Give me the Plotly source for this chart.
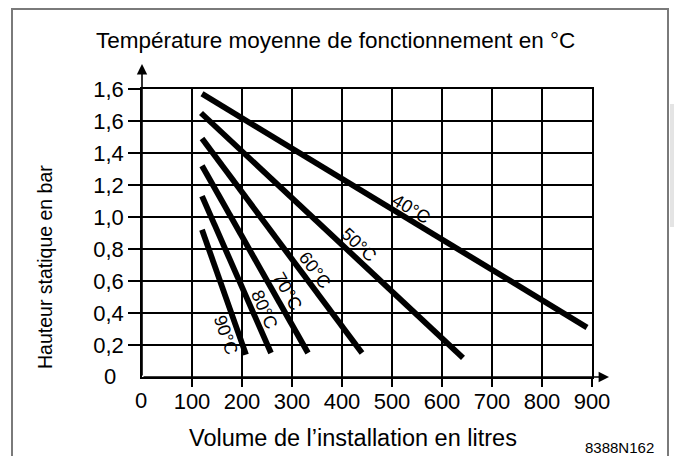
import math
import plotly.graph_objects as go

# Mean operating temperature curves: static head (bar) vs installation volume (litres)
temperatures = ["40°C", "50°C", "60°C", "70°C", "80°C", "90°C"]
volume_start = [120, 118, 120, 120, 120, 120]
volume_end = [890, 642, 440, 332, 258, 208]
head_start = [1.77, 1.65, 1.49, 1.32, 1.13, 0.92]
head_end = [0.31, 0.12, 0.15, 0.15, 0.15, 0.14]

x_ticks = [100, 200, 300, 400, 500, 600, 700, 800, 900]
x_tick_labels = [str(v) for v in x_ticks]
y_ticks = [0.2, 0.4, 0.6, 0.8, 1.0, 1.2, 1.4, 1.6, 1.8]
y_tick_labels = ["0,2", "0,4", "0,6", "0,8", "1,0", "1,2", "1,4", "1,6", "1,6"]
origin_label = "0"

# Curve label placement: fraction along the curve and perpendicular offset (px)
label_frac = [0.53, 0.573, 0.645, 0.703, 0.75, 0.812]
label_offset = [10, 12, 12, 12, 11, -13]

W, H = 674, 456
M_L, M_R, M_T, M_B = 142, 82, 89, 79
PW, PH = W - M_L - M_R, H - M_T - M_B
X_RANGE = [0, 900]
Y_RANGE = [0, 1.8]
KX = PW / (X_RANGE[1] - X_RANGE[0])
KY = PH / (Y_RANGE[1] - Y_RANGE[0])


def px(xp):
    return (xp - M_L) / PW


def py(yp):
    return (H - M_B - yp) / PH


FONT = "Liberation Sans, Arial, Helvetica, sans-serif"
TICK_SIZE = 22

fig = go.Figure()
for i, t in enumerate(temperatures):
    fig.add_trace(go.Scatter(
        x=[volume_start[i], volume_end[i]],
        y=[head_start[i], head_end[i]],
        mode="lines",
        line=dict(color="black", width=5.8),
        showlegend=False,
        hoverinfo="skip",
        name=t,
    ))

annotations = []
for i, t in enumerate(temperatures):
    dx = (volume_end[i] - volume_start[i]) * KX
    dy = (head_start[i] - head_end[i]) * KY  # screen y grows downward
    L = math.hypot(dx, dy)
    ux, uy = dx / L, dy / L
    f = label_frac[i]
    ax_ = volume_start[i] + f * (volume_end[i] - volume_start[i])
    ay_ = head_start[i] + f * (head_end[i] - head_start[i])
    d = label_offset[i]
    annotations.append(dict(
        x=ax_, y=ay_, xref="x", yref="y", text=t, showarrow=False,
        xanchor="center", yanchor="middle",
        textangle=math.degrees(math.atan2(dy, dx)),
        xshift=d * uy, yshift=d * ux,
        font=dict(family=FONT, size=18, color="black"),
    ))

# Origin labels (no tick marks at the origin)
annotations += [
    dict(x=0, y=0, xref="x", yref="y", text=origin_label, showarrow=False,
         xanchor="right", yanchor="middle", xshift=-24, yshift=1,
         font=dict(family=FONT, size=TICK_SIZE, color="black")),
    dict(x=0, y=0, xref="x", yref="y", text=origin_label, showarrow=False,
         xanchor="center", yanchor="middle", xshift=-1, yshift=-23,
         font=dict(family=FONT, size=TICK_SIZE, color="black")),
]

# Axis arrows
annotations.append(dict(
    x=0, y=py(64), xref="x", yref="paper", ax=0, ay=H - M_B - 64,
    axref="pixel", ayref="pixel", text="", showarrow=True,
    arrowhead=2, arrowsize=1.3, arrowwidth=1.6, arrowcolor="black",
))
annotations.append(dict(
    x=px(609), y=0, xref="paper", yref="y", ax=-(609 - M_L), ay=0,
    text="", showarrow=True,
    arrowhead=2, arrowsize=1.3, arrowwidth=1.6, arrowcolor="black",
))

# Titles and reference code
annotations += [
    dict(x=px(335), y=py(41), xref="paper", yref="paper", showarrow=False,
         xanchor="center", yanchor="middle",
         text="Température moyenne de fonctionnement en °C",
         font=dict(family=FONT, size=22.5, color="black")),
    dict(x=px(45), y=py(245), xref="paper", yref="paper", showarrow=False,
         xanchor="center", yanchor="middle", yshift=-22,
         text="Hauteur statique en bar", textangle=-90,
         font=dict(family=FONT, size=19.5, color="black")),
    dict(x=px(353), y=py(438), xref="paper", yref="paper", showarrow=False,
         xanchor="center", yanchor="middle",
         text="Volume de l’installation en litres",
         font=dict(family=FONT, size=23.5, color="black")),
    dict(x=px(619), y=py(447), xref="paper", yref="paper", showarrow=False,
         xanchor="center", yanchor="middle",
         text="8388N162", font=dict(family=FONT, size=15, color="black")),
]

shapes = [
    # outer frame
    dict(type="rect", xref="paper", yref="paper",
         x0=px(12), x1=px(668), y0=py(470), y1=py(9),
         line=dict(color="#7a7a7a", width=2), fillcolor="rgba(0,0,0,0)", layer="below"),
    dict(type="rect", xref="paper", yref="paper",
         x0=px(670), x1=px(676), y0=py(227), y1=py(104),
         line=dict(width=0), fillcolor="#e4e4e4", layer="below"),
]

axis_common = dict(
    showgrid=True, gridcolor="black", gridwidth=1.6,
    showline=True, linecolor="black", linewidth=1.6, mirror=True,
    zeroline=False, ticks="outside", tickcolor="black", tickwidth=1.6,
    tickfont=dict(family=FONT, size=TICK_SIZE, color="black"),
)

fig.update_xaxes(range=X_RANGE, tickvals=x_ticks, ticktext=x_tick_labels,
                 ticklen=8, ticklabelstandoff=-4, **axis_common)
fig.update_yaxes(range=Y_RANGE, tickvals=y_ticks, ticktext=y_tick_labels,
                 ticklen=12, **axis_common)

fig.update_layout(
    width=W, height=H,
    margin=dict(l=M_L, r=M_R, t=M_T, b=M_B, pad=0),
    paper_bgcolor="white", plot_bgcolor="white",
    annotations=annotations, shapes=shapes,
    showlegend=False,
)

fig.write_html("out.html", config={"displayModeBar": False})
